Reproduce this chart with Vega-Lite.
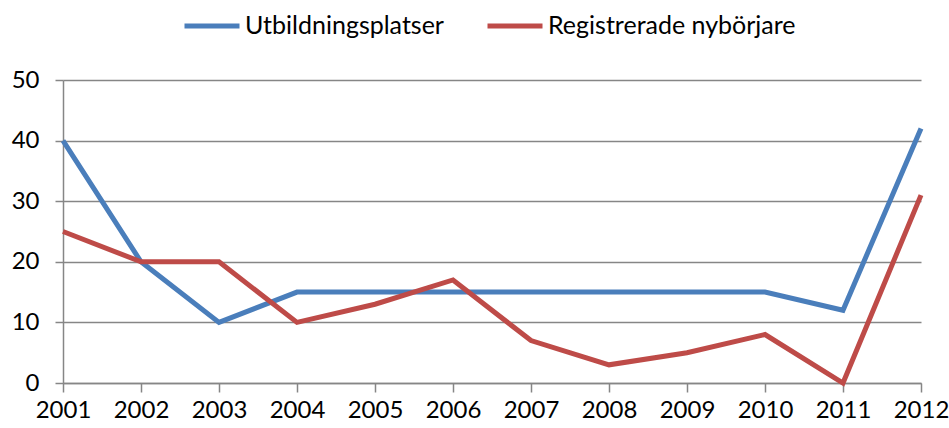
{
  "$schema": "https://vega.github.io/schema/vega-lite/v6.json",
  "width": 858,
  "height": 303,
  "autosize": {"type": "none"},
  "padding": {"left": 63, "top": 80, "right": 28, "bottom": 45},
  "background": "white",
  "config": {
    "view": {"stroke": null},
    "font": "Lato",
    "axis": {"labelFont": "Lato", "labelFontSize": 24, "labelColor": "#000000", "titleFont": "Lato"}
  },
  "data": {
    "values": [
      {"year": "2001", "series": "Utbildningsplatser", "value": 40},
      {"year": "2002", "series": "Utbildningsplatser", "value": 20},
      {"year": "2003", "series": "Utbildningsplatser", "value": 10},
      {"year": "2004", "series": "Utbildningsplatser", "value": 15},
      {"year": "2005", "series": "Utbildningsplatser", "value": 15},
      {"year": "2006", "series": "Utbildningsplatser", "value": 15},
      {"year": "2007", "series": "Utbildningsplatser", "value": 15},
      {"year": "2008", "series": "Utbildningsplatser", "value": 15},
      {"year": "2009", "series": "Utbildningsplatser", "value": 15},
      {"year": "2010", "series": "Utbildningsplatser", "value": 15},
      {"year": "2011", "series": "Utbildningsplatser", "value": 12},
      {"year": "2012", "series": "Utbildningsplatser", "value": 42},
      {"year": "2001", "series": "Registrerade nybörjare", "value": 25},
      {"year": "2002", "series": "Registrerade nybörjare", "value": 20},
      {"year": "2003", "series": "Registrerade nybörjare", "value": 20},
      {"year": "2004", "series": "Registrerade nybörjare", "value": 10},
      {"year": "2005", "series": "Registrerade nybörjare", "value": 13},
      {"year": "2006", "series": "Registrerade nybörjare", "value": 17},
      {"year": "2007", "series": "Registrerade nybörjare", "value": 7},
      {"year": "2008", "series": "Registrerade nybörjare", "value": 3},
      {"year": "2009", "series": "Registrerade nybörjare", "value": 5},
      {"year": "2010", "series": "Registrerade nybörjare", "value": 8},
      {"year": "2011", "series": "Registrerade nybörjare", "value": 0},
      {"year": "2012", "series": "Registrerade nybörjare", "value": 31}
    ]
  },
  "mark": {"type": "line", "strokeWidth": 5, "strokeJoin": "miter", "clip": false},
  "encoding": {
    "x": {
      "field": "year",
      "type": "ordinal",
      "scale": {"type": "point", "padding": 0},
      "axis": {
        "title": null,
        "labelAngle": 0,
        "grid": false,
        "domainColor": "#868686",
        "domainWidth": 1.5,
        "tickColor": "#868686",
        "tickSize": 9,
        "tickWidth": 1.5,
        "labelPadding": 6,
        "labelBaseline": "top"
      }
    },
    "y": {
      "field": "value",
      "type": "quantitative",
      "scale": {"domain": [0, 50], "nice": false},
      "axis": {
        "title": null,
        "values": [0, 10, 20, 30, 40, 50],
        "grid": true,
        "gridColor": "#868686",
        "gridWidth": 1.5,
        "domainColor": "#868686",
        "domainWidth": 1.5,
        "tickColor": "#868686",
        "tickSize": 8,
        "tickWidth": 1.5,
        "labelPadding": 16
      }
    },
    "color": {
      "field": "series",
      "type": "nominal",
      "scale": {
        "domain": ["Utbildningsplatser", "Registrerade nybörjare"],
        "range": ["#4a7ebb", "#be4b48"]
      },
      "legend": {
        "title": null,
        "orient": "none",
        "direction": "horizontal",
        "legendX": 119,
        "legendY": -84,
        "symbolType": "stroke",
        "symbolSize": 3025,
        "symbolStrokeWidth": 5,
        "labelFont": "Lato",
        "labelFontSize": 25,
        "labelColor": "#000000",
        "labelOffset": 3,
        "columnPadding": 33,
        "labelLimit": 400
      }
    }
  }
}
